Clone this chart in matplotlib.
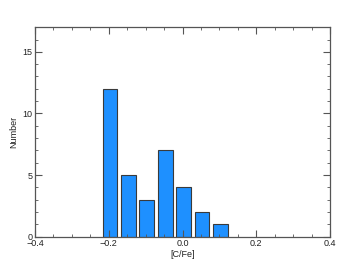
import matplotlib
matplotlib.use("Agg")
import matplotlib.pyplot as plt
from matplotlib.ticker import MultipleLocator

# [C/Fe] bin centres and counts
bin_centers = [-0.197, -0.147, -0.097, -0.047, 0.003, 0.053, 0.103]
counts = [12, 5, 3, 7, 4, 2, 1]
xticks = [-0.4, -0.2, 0.0, 0.2, 0.4]
xticklabels = ["\u22120.4", "\u22120.2", "0.0", "0.2", "0.4"]
yticks = [0, 5, 10, 15]

plt.rcParams["font.family"] = ["Liberation Sans", "DejaVu Sans"]

fig = plt.figure(figsize=(3.47, 2.78), dpi=100)
ax = fig.add_axes([0.101, 0.149, 0.850, 0.753])

ax.bar(bin_centers, counts, width=0.04, color="#1E90FF",
       edgecolor="#3a3a3a", linewidth=0.8, zorder=1)

ax.set_xlim(-0.4, 0.4)
ax.set_ylim(0, 17)
ax.set_xticks(xticks)
ax.set_xticklabels(xticklabels)
ax.set_yticks(yticks)
ax.xaxis.set_minor_locator(MultipleLocator(0.05))
ax.yaxis.set_minor_locator(MultipleLocator(1))

ax.tick_params(which="both", direction="in", top=True, right=True,
               color="#555555", labelsize=6.5, labelcolor="#222222", pad=2)
ax.tick_params(which="major", length=5, width=0.8)
ax.tick_params(which="minor", length=2.5, width=0.6)
for s in ax.spines.values():
    s.set_color("#555555")
    s.set_linewidth(0.9)

ax.set_xlabel("[C/Fe]", fontsize=6.5, color="#222222", labelpad=1)
ax.set_ylabel("Number", fontsize=6.5, color="#222222", labelpad=3)

fig.savefig("out.png", dpi=100)
